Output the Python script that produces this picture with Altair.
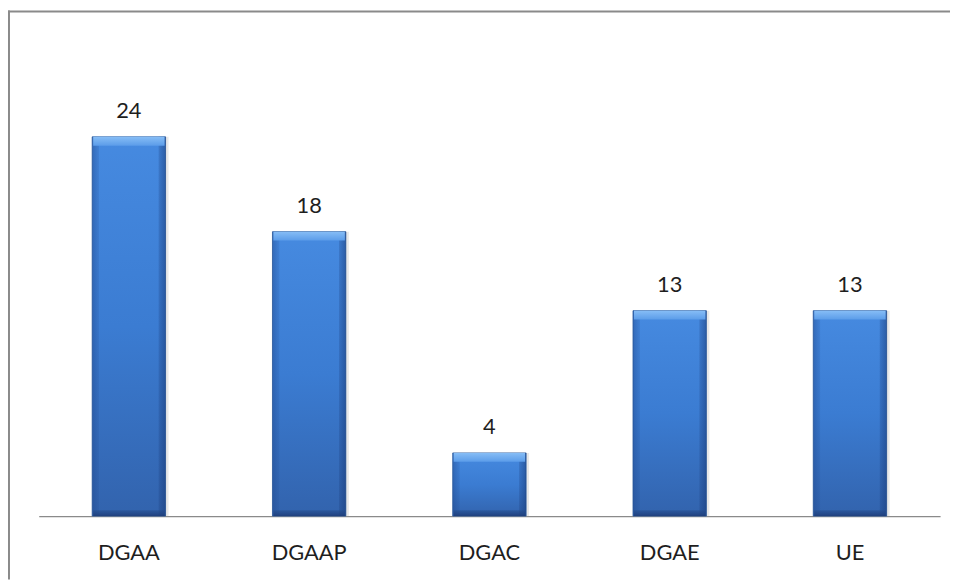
import altair as alt
import pandas as pd

categories = ["DGAA", "DGAAP", "DGAC", "DGAE", "UE"]
values = [24, 18, 4, 13, 13]

df = pd.DataFrame({"cat": categories, "val": values})

W, H = 942, 510
FONT = "Lato"

x_enc = alt.X("cat:N", sort=categories, title="",
              scale=alt.Scale(range=[31, 940], paddingInner=0, paddingOuter=0),
              axis=alt.Axis(labelFont=FONT, labelFontSize=22, labelColor="#1e1e1e",
                            labelAngle=0, ticks=False, labelBaseline="alphabetic",
                            labelPadding=44, domainColor="#8a8a8a", domainWidth=1.2,
                            grid=False))
y_scale = alt.Scale(domain=[0, 32])

base = alt.Chart(df)

def vgrad(stops):
    return alt.Gradient(gradient="linear", x1=0, x2=0, y1=0, y2=1,
                        stops=[alt.GradientStop(offset=o, color=c) for o, c in stops])

def hgrad(stops):
    return alt.Gradient(gradient="linear", x1=0, x2=1, y1=0, y2=0,
                        stops=[alt.GradientStop(offset=o, color=c) for o, c in stops])

shadow = base.mark_bar(width=74, xOffset=3, color="#d8d8d8", opacity=0.6).encode(
    x=x_enc, y=alt.Y("val:Q", scale=y_scale, axis=None))

body = base.mark_bar(width=74, stroke="#2d5c9c", strokeWidth=0.8,
                     color=vgrad([(0, "#468ae0"), (0.5, "#3b7cd2"), (1, "#3263ad")])).encode(
    x=x_enc, y=alt.Y("val:Q", scale=y_scale, axis=None))

sides = base.mark_bar(width=74, color=hgrad([
    (0, "rgba(30,70,140,0.45)"), (0.09, "rgba(30,70,140,0.15)"), (0.1, "rgba(30,70,140,0)"),
    (0.9, "rgba(20,50,110,0)"), (0.91, "rgba(20,50,110,0.2)"), (1, "rgba(20,50,110,0.5)")])).encode(
    x=x_enc, y=alt.Y("val:Q", scale=y_scale, axis=None))

top_bevel = base.mark_bar(width=72, y2Offset=9,
                          color=vgrad([(0, "#86bdf6"), (1, "#5b9ce9")])).encode(
    x=x_enc, y=alt.Y("val:Q", scale=y_scale, axis=None), y2="val:Q")

bottom_bevel = base.mark_bar(width=72, yOffset=-6, y2Offset=0,
                             color=vgrad([(0, "rgba(35,75,140,0.5)"), (1, "rgba(30,60,120,0.9)")])).encode(
    x=x_enc, y=alt.Y("zero:Q", scale=y_scale, axis=None), y2="zero:Q").transform_calculate(zero="0")

labels = base.mark_text(font=FONT, fontSize=22, color="#1e1e1e", baseline="alphabetic",
                        dy=-19).encode(
    x=x_enc, y=alt.Y("val:Q", scale=y_scale, axis=None), text="val:Q")

frame_df = pd.DataFrame({"k": [0]})
top_border = alt.Chart(frame_df).mark_rule(color="#8a8a8a", strokeWidth=2).encode(
    x=alt.value(0), x2=alt.value(950), y=alt.value(1))
left_border = alt.Chart(frame_df).mark_rule(color="#8a8a8a", strokeWidth=2).encode(
    x=alt.value(1), y=alt.value(0), y2=alt.value(574))

chart = alt.layer(shadow, body, sides, top_bevel, bottom_bevel, labels, top_border, left_border).properties(
    width=W, height=H, autosize=alt.AutoSizeParams(type="none"),
    padding={"left": 0, "top": 0, "right": 8, "bottom": 64},
    background="white"
).configure_view(stroke="transparent")

chart.save("out.html", embed_options={"renderer": "svg", "actions": False})
